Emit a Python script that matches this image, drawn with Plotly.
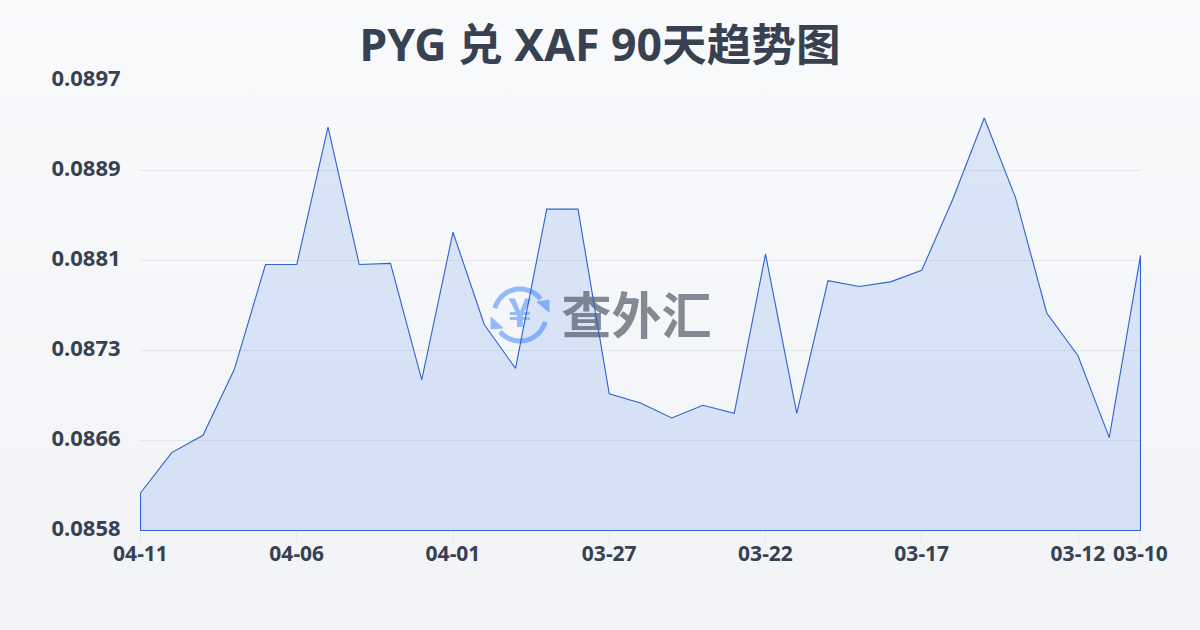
import numpy as np
import plotly.graph_objects as go

TITLE = "PYG 兑 XAF 90天趋势图"
WATERMARK = "查外汇"
dates = ["04-11","04-10","04-09","04-08","04-07","04-06","04-05","04-04","04-03","04-02","04-01",
         "03-31","03-30","03-29","03-28","03-27","03-26","03-25","03-24","03-23","03-22","03-21",
         "03-20","03-19","03-18","03-17","03-16","03-15","03-14","03-13","03-12","03-11","03-10"]
values = [0.086125,0.086475,0.086625,0.087195,0.088105,0.088105,0.089295,0.088105,0.088115,0.087105,0.088385,
          0.087585,0.087205,0.088585,0.088585,0.086985,0.086905,0.086775,0.086885,0.086815,0.088195,0.086815,
          0.087965,0.087915,0.087955,0.088055,0.088675,0.089375,0.088685,0.087685,0.087315,0.086605,0.088185]
y_min, y_max = 0.0858, 0.0897
y_ticks = [0.0858,0.08658,0.08736,0.08814,0.08892,0.0897]
y_labels = ["0.0858","0.0866","0.0873","0.0881","0.0889","0.0897"]
x_labels = ["04-11","04-06","04-01","03-27","03-22","03-17","03-12","03-10"]

FONT = "Noto Sans, Noto Sans CJK SC, sans-serif"
CJK = "Noto Sans CJK SC, Noto Sans, sans-serif"
idx = list(range(len(dates)))
x_ticks = [dates.index(d) for d in x_labels]

# plot box is one pixel larger than the data span so edge lines fall on pixel centres
L, R, T, B = 140, 1141, 80, 531
x_pad = (idx[-1] / 1000) * 0.5
y_pad = ((y_max - y_min) / 450) * 0.5

def px(x): return (x - L) / (R - L)
def py(y): return (B - y) / (B - T)
def path(points, close=False):
    s = "M " + " L ".join(f"{px(a):.5f},{py(b):.5f}" for a, b in points)
    return s + (" Z" if close else "")
def arc(a0, a1, cx=520, cy=315, r=26):
    return [(cx + r*np.cos(np.radians(t)), cy + r*np.sin(np.radians(t))) for t in np.linspace(a0, a1, 30)]

ICON = "#93bbfa"
shapes = [
    dict(type="path", xref="paper", yref="paper", layer="below", path=path(arc(195, 322)),
         line=dict(color=ICON, width=5)),
    dict(type="path", xref="paper", yref="paper", layer="below", path=path(arc(15, 140)),
         line=dict(color=ICON, width=5)),
    dict(type="path", xref="paper", yref="paper", layer="below",
         path=path([(537,302),(549,300),(549,312)], True), fillcolor=ICON, line=dict(color=ICON, width=1)),
    dict(type="path", xref="paper", yref="paper", layer="below",
         path=path([(491,317),(503,328),(491,329)], True), fillcolor=ICON, line=dict(color=ICON, width=1)),
]

fig = go.Figure()
fig.add_trace(go.Scatter(x=idx + [idx[-1], idx[0]], y=values + [y_min, y_min], mode="lines", fill="toself",
                         fillcolor="rgba(37,99,235,0.135)", line=dict(color="rgba(0,0,0,0)", width=0),
                         hoverinfo="skip", showlegend=False))
fig.add_trace(go.Scatter(x=[15.87, 12.14], y=[0.08761, 0.08765], mode="text",
                         text=[WATERMARK, "¥"],
                         textfont=dict(family=CJK, size=[50, 40], color=["rgba(75,85,99,0.68)", ICON], weight=700),
                         textposition="middle center", hoverinfo="skip", showlegend=False))
fig.add_trace(go.Scatter(x=idx + [idx[-1], idx[0], idx[0]], y=values + [y_min, y_min, values[0]], mode="lines",
                         line=dict(color="#2f62cc", width=1.1), hoverinfo="skip", showlegend=False, cliponaxis=False))

fig.update_layout(
    width=1200, height=630, margin=dict(l=L, r=1200-R, t=T, b=630-B),
    paper_bgcolor="rgba(0,0,0,0)", plot_bgcolor="rgba(0,0,0,0)",
    font=dict(family=FONT, color="#374151"),
    title=dict(text=TITLE, x=0.5, xanchor="center", y=0.928, yanchor="middle",
               font=dict(family=FONT, size=44.6, color="#374151", weight=700)),
    shapes=shapes, showlegend=False,
    xaxis=dict(range=[-x_pad, idx[-1] + x_pad], tickmode="array", tickvals=x_ticks, ticktext=x_labels,
               showgrid=False, zeroline=False, showline=False, ticks="outside", ticklen=10, tickcolor="#e5e7eb",
               ticklabelstandoff=-6,
               tickfont=dict(family=FONT, size=21, color="#374151", weight=700), tickangle=0),
    yaxis=dict(range=[y_min - y_pad, y_max + y_pad], tickmode="array", tickvals=y_ticks, ticktext=y_labels,
               showgrid=True, gridcolor="#e5e7eb", gridwidth=1, zeroline=False, showline=False,
               ticks="outside", ticklen=14, tickcolor="rgba(0,0,0,0)", ticklabelshift=-2,
               tickfont=dict(family=FONT, size=22, color="#374151", weight=700)),
)
post = """
document.documentElement.style.height='100%';
document.body.style.margin='0';
document.body.style.height='630px';
document.body.style.background='linear-gradient(180deg,#f8fafc 0%,#f1f3f6 100%)';
"""
fig.write_html("out.html", post_script=post, config=dict(displayModeBar=False))
